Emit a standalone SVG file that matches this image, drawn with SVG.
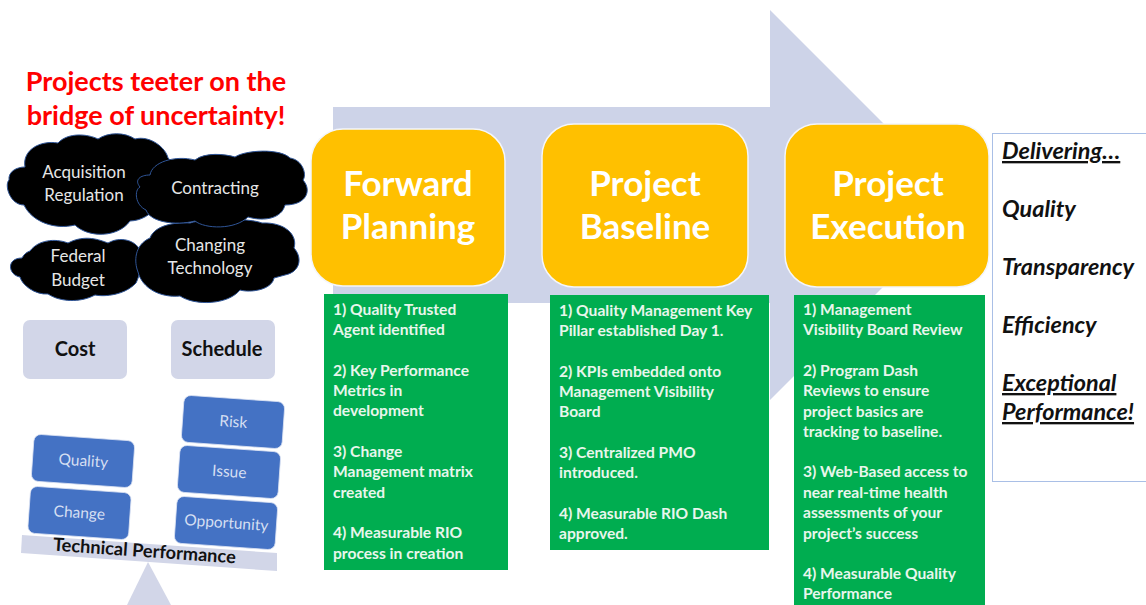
<svg xmlns="http://www.w3.org/2000/svg" width="1146" height="605" viewBox="0 0 1146 605">
<style>
text{font-family:Lato,"Liberation Sans",sans-serif}
.big{font-size:35px;font-weight:700;fill:#fff;text-anchor:middle}
.stage{fill:#ffc000;stroke:#f4f6fb;stroke-width:1.5}
.green{fill:#00ad50}
.item{font-size:15.6px;font-weight:700;fill:#e8f6ec}
.cloud{fill:#000;stroke:#2f5597;stroke-width:1}
.cl{font-size:17px;fill:#e6e6e6;text-anchor:middle}
.pale{fill:#d2d6e8}
.lab{font-size:20px;font-weight:700;fill:#111;text-anchor:middle}
.blue{fill:#4472c4;stroke:#dfe6f4;stroke-width:.8}
.bl{font-size:15.5px;fill:#d5dff2;text-anchor:middle}
.head{font-size:27px;font-weight:700;fill:#f00;text-anchor:middle}
.del{font-size:23.4px;font-weight:700;font-style:italic;fill:#111}
</style>
<g id="arrow"><polygon points="333,107 770,107 770,10 965,205 770,400 770,303 333,303" fill="#cdd3e8"/></g>
<g id="heading"><text class="head" x="156" y="91">Projects teeter on the</text><text class="head" x="156" y="125">bridge of uncertainty!</text></g>
<g id="cloud-acquisition"><path class="cloud" d="M25,167 C22,150 40,140 58,143 C68,132 88,134 98,139 C108,132 125,132 135,139 C150,135 166,148 168,158 C180,165 165,220 130,221 C118,238 88,238 75,225 C55,230 32,222 24,205 C10,205 4,185 9,180 C8,172 16,167 25,167Z"/><text class="cl" x="84" y="178">Acquisition</text><text class="cl" x="84" y="201">Regulation</text></g>
<g id="cloud-federal"><path class="cloud" d="M30,251 C38,240 55,238 68,243 C85,234 100,240 108,243 C120,236 135,240 140,250 C142,265 140,275 136,283 C125,295 105,297 95,295 C80,303 60,302 48,294 C35,295 22,285 20,277 C8,275 6,258 22,258 C24,254 27,252 30,251Z"/><text class="cl" x="78" y="262">Federal</text><text class="cl" x="78" y="286">Budget</text></g>
<g id="cloud-technology"><path class="cloud" d="M150,238 C155,225 175,222 190,223 C205,218 250,218 262,223 C285,222 298,235 294,248 C303,258 300,272 285,275 L274,278 C272,290 250,293 240,290 C228,305 195,306 180,296 C160,298 142,288 138,272 C134,262 134,245 150,238Z"/><text class="cl" x="210" y="251">Changing</text><text class="cl" x="210" y="274">Technology</text></g>
<g id="cloud-contracting"><path class="cloud" d="M150,175 C152,162 175,155 195,160 C205,152 225,154 235,157 C245,150 280,148 290,158 C303,160 307,175 303,180 C312,190 307,205 285,205 C282,218 265,222 248,217 C235,230 205,229 195,221 C175,226 150,222 146,210 C135,205 134,190 140,187 C134,180 140,175 150,175Z"/><text class="cl" x="215" y="194">Contracting</text></g>
<g id="cost"><rect class="pale" x="23" y="320" width="104" height="59" rx="7"/><text class="lab" x="75" y="356">Cost</text></g>
<g id="schedule"><rect class="pale" x="171" y="320" width="104" height="59" rx="7"/><text class="lab" x="222" y="356">Schedule</text></g>
<g id="fulcrum"><polygon class="pale" points="148,562 127,605 171,605"/></g>
<g id="beam"><polygon class="pale" points="22,535 277,553 277,571 21,553"/><text transform="translate(144,557) rotate(4)" font-size="18.2" font-weight="700" fill="#111" text-anchor="middle">Technical Performance</text></g>
<g id="quality"><rect class="blue" x="-50.5" y="-23.5" width="101" height="47" rx="7" transform="translate(83,461) rotate(4)"/><text class="bl" transform="translate(83,466) rotate(4)">Quality</text></g>
<g id="change"><rect class="blue" x="-50.5" y="-23.5" width="101" height="47" rx="7" transform="translate(79.500,513) rotate(4)"/><text class="bl" transform="translate(79,518) rotate(4)">Change</text></g>
<g id="risk"><rect class="blue" x="-50.5" y="-23.5" width="101" height="47" rx="7" transform="translate(233,422) rotate(4)"/><text class="bl" transform="translate(233,427) rotate(4)">Risk</text></g>
<g id="issue"><rect class="blue" x="-50.5" y="-23.5" width="101" height="47" rx="7" transform="translate(229,472) rotate(4)"/><text class="bl" transform="translate(229,477) rotate(4)">Issue</text></g>
<g id="opportunity"><rect class="blue" x="-50.5" y="-23.5" width="101" height="47" rx="7" transform="translate(226,523) rotate(4)"/><text class="bl" transform="translate(226,528) rotate(4)">Opportunity</text></g>
<g id="forward-planning"><rect class="stage" x="311" y="129" width="194" height="157" rx="32"/><text class="big" x="408" y="196">Forward</text><text class="big" x="408" y="239">Planning</text></g>
<g id="project-baseline"><rect class="stage" x="542" y="124" width="206" height="163" rx="32"/><text class="big" x="645" y="196">Project</text><text class="big" x="645" y="239">Baseline</text></g>
<g id="project-execution"><rect class="stage" x="785" y="124" width="204" height="163" rx="32"/><text class="big" x="888" y="196">Project</text><text class="big" x="888" y="239">Execution</text></g>
<g id="planning-list"><rect class="green" x="324" y="294" width="184" height="276"/>
<text class="item" x="333" y="315">1) Quality Trusted</text><text class="item" x="333" y="335">Agent identified</text>
<text class="item" x="333" y="376">2) Key Performance</text><text class="item" x="333" y="396">Metrics in</text><text class="item" x="333" y="416">development</text>
<text class="item" x="333" y="457">3) Change</text><text class="item" x="333" y="477">Management matrix</text><text class="item" x="333" y="498">created</text>
<text class="item" x="333" y="538">4) Measurable RIO</text><text class="item" x="333" y="559">process in creation</text></g>
<g id="baseline-list"><rect class="green" x="550" y="295" width="219" height="255"/>
<text class="item" x="559" y="316">1) Quality Management Key</text><text class="item" x="559" y="336">Pillar established Day 1.</text>
<text class="item" x="559" y="377">2) KPIs embedded onto</text><text class="item" x="559" y="397">Management Visibility</text><text class="item" x="559" y="417">Board</text>
<text class="item" x="559" y="458">3) Centralized PMO</text><text class="item" x="559" y="478">introduced.</text>
<text class="item" x="559" y="519">4) Measurable RIO Dash</text><text class="item" x="559" y="539">approved.</text></g>
<g id="execution-list"><rect class="green" x="794" y="295" width="191" height="310"/>
<text class="item" x="803" y="315">1) Management</text><text class="item" x="803" y="335">Visibility Board Review</text>
<text class="item" x="803" y="376">2) Program Dash</text><text class="item" x="803" y="396">Reviews to ensure</text><text class="item" x="803" y="417">project basics are</text><text class="item" x="803" y="437">tracking to baseline.</text>
<text class="item" x="803" y="477">3) Web-Based access to</text><text class="item" x="803" y="498">near real-time health</text><text class="item" x="803" y="518">assessments of your</text><text class="item" x="803" y="539">project’s success</text>
<text class="item" x="803" y="579">4) Measurable Quality</text><text class="item" x="803" y="599">Performance</text></g>
<g id="delivering"><rect x="992.500" y="133.500" width="160" height="348" fill="#fff" stroke="#a9bfe6" stroke-width="1"/>
<text class="del" x="1002" y="159" text-decoration="underline">Delivering…</text>
<text class="del" x="1002" y="217">Quality</text>
<text class="del" x="1002" y="275">Transparency</text>
<text class="del" x="1002" y="333">Efficiency</text>
<text class="del" x="1002" y="391" text-decoration="underline">Exceptional</text>
<text class="del" x="1002" y="420" text-decoration="underline">Performance!</text></g>
</svg>
